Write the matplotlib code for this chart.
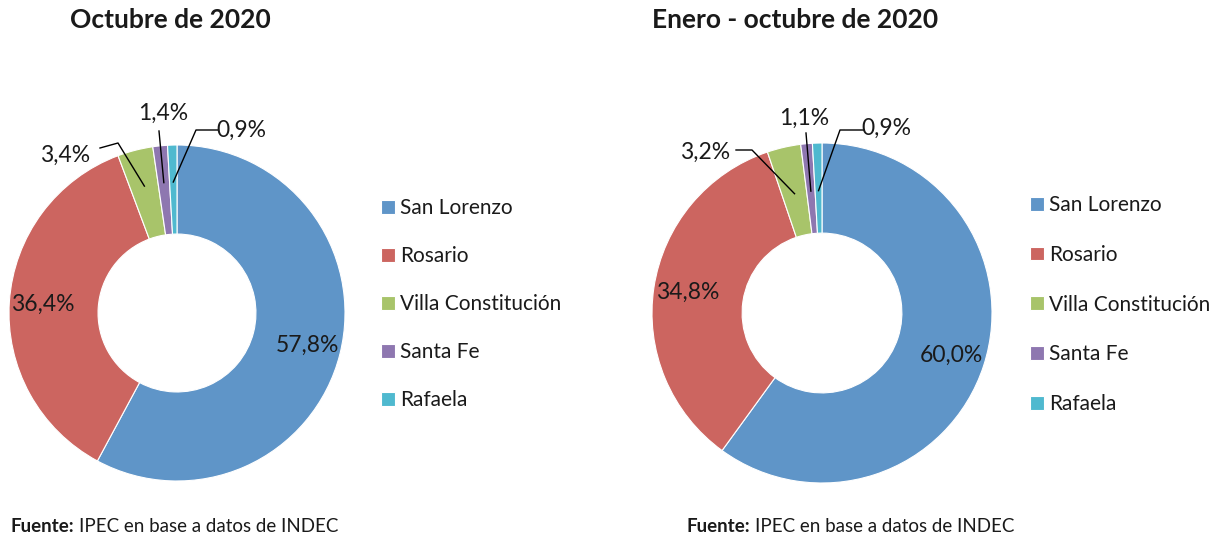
import numpy as np
import matplotlib
matplotlib.use("Agg")
import matplotlib.pyplot as plt

plt.rcParams["font.family"] = ["Lato", "DejaVu Sans"]

# datos
ciudades = ["San Lorenzo", "Rosario", "Villa Constitución", "Santa Fe", "Rafaela"]
octubre = [57.8, 36.4, 3.4, 1.4, 0.9]
ene_oct = [60.0, 34.8, 3.2, 1.1, 0.9]
titulos = ["Octubre de 2020", "Enero - octubre de 2020"]
colores = ["#5F95C8", "#CC6560", "#A8C46A", "#8E77B0", "#4FB9CF"]

W, H = 1231, 541
fig = plt.figure(figsize=(W / 100, H / 100), dpi=100)
ax = fig.add_axes([0, 0, 1, 1])
ax.set_xlim(0, W)
ax.set_ylim(0, H)
ax.set_aspect("equal")
ax.axis("off")
rend = fig.canvas.get_renderer()


def etiqueta(v):
    return f"{v:.1f}%".replace(".", ",")


# (centro x, centro y en pixeles desde arriba, radio)
donas = [(177, 313, 168), (822, 313, 170)]
# posiciones de las etiquetas pequeñas: (texto x, texto y, puntos de la linea)
guias = [
    [((65, 155), [(100, 148), (118, 143)]),
     ((163, 113), [(159, 131)]),
     ((241, 130), [(218, 130), (196, 130)])],
    [((705, 152), [(736, 150), (752, 150)]),
     ((804, 118), [(806, 133)]),
     ((886, 128), [(864, 130), (840, 130)])],
]
punta = [0.78, 0.72]
legx = [381, 1030]
legy = [207, 204]
espacio = [1.35, 1.43]
titx = [170, 795]
fx = [10, 686]

for i, datos in enumerate([octubre, ene_oct]):
    cx, cy, r = donas[i]
    cy = H - cy
    wedges, _ = ax.pie(datos, colors=colores, startangle=90, counterclock=False,
                       center=(cx, cy), radius=r, frame=True,
                       wedgeprops=dict(width=r * 0.53, edgecolor="white", linewidth=0.8))
    total = sum(datos)
    acum = np.cumsum([0] + datos)
    for j, v in enumerate(datos):
        ang = np.deg2rad(90 - 360 * (acum[j] + v / 2) / total)
        if j < 2:
            ax.text(cx + 0.8 * r * np.cos(ang), cy + 0.8 * r * np.sin(ang), etiqueta(v),
                    ha="center", va="center", fontsize=16.5, color="#1a1a1a")
        else:
            (tx, ty), pts = guias[i][j - 2]
            xs = [cx + punta[i] * r * np.cos(ang)] + [p[0] for p in pts[::-1]]
            ys = [cy + punta[i] * r * np.sin(ang)] + [H - p[1] for p in pts[::-1]]
            ax.plot(xs, ys, color="black", lw=1)
            ax.text(tx, H - ty, etiqueta(v), ha="center", va="center",
                    fontsize=16.5, color="#1a1a1a")

    ax.text(titx[i], H - 20, titulos[i], ha="center", va="center",
            fontsize=19, fontweight="bold", color="#1a1a1a")
    f = ax.text(fx[i], H - 527, "Fuente:", ha="left", va="center", fontsize=13.5,
                fontweight="bold", color="#1a1a1a")
    ancho = f.get_window_extent(rend).width
    ax.text(fx[i] + ancho + 5, H - 527, "IPEC en base a datos de INDEC", ha="left",
            va="center", fontsize=13.5, color="#1a1a1a")

    leg = fig.legend(wedges, ciudades, loc="upper left",
                     bbox_to_anchor=(legx[i] / W, 1 - (legy[i] - 9) / H),
                     frameon=False, fontsize=15, handlelength=0.65, handleheight=0.65,
                     handletextpad=0.25, labelspacing=espacio[i], borderaxespad=0,
                     borderpad=0)
    for t in leg.get_texts():
        t.set_color("#1a1a1a")

ax.set_xlim(0, W)
ax.set_ylim(0, H)
fig.savefig("out.png", dpi=100)
